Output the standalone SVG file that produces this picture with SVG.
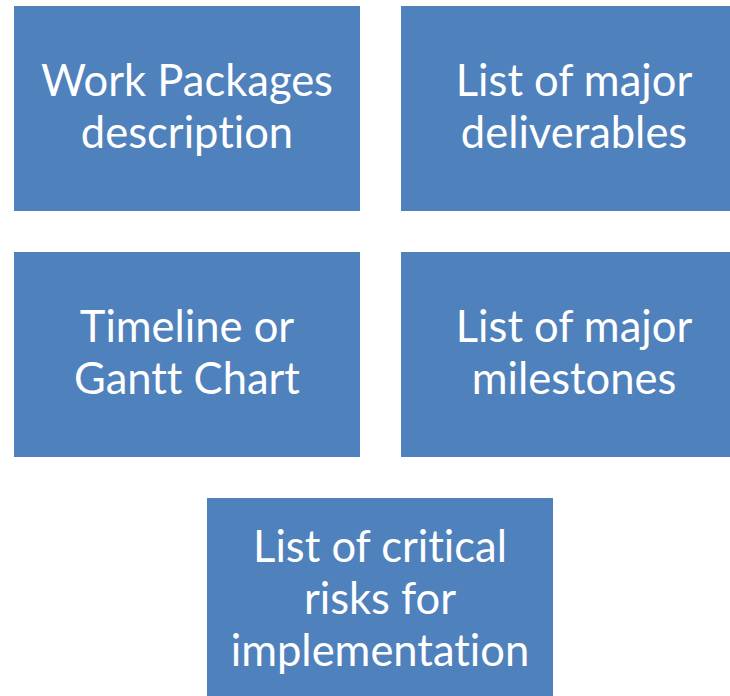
<svg xmlns="http://www.w3.org/2000/svg" width="730" height="696" viewBox="0 0 730 696">
<style>
.box{fill:#4F81BD;}
.t{fill:#FFFFFF;font-family:Lato,"Open Sans","Liberation Sans",sans-serif;font-size:43.5px;text-anchor:middle;font-variant-ligatures:none;font-feature-settings:"liga" 0,"clig" 0;}
</style>
<rect width="730" height="696" fill="#FFFFFF"/>
<g id="node-work-packages">
<rect class="box" x="14" y="6" width="346" height="205"/>
<text class="t" x="187" y="96">Work Packages</text>
<text class="t" x="187" y="148">description</text>
</g>
<g id="node-deliverables">
<rect class="box" x="401" y="6" width="346" height="205"/>
<text class="t" x="574" y="96">List of major</text>
<text class="t" x="574" y="148">deliverables</text>
</g>
<g id="node-timeline">
<rect class="box" x="14" y="252" width="346" height="205"/>
<text class="t" x="187" y="342">Timeline or</text>
<text class="t" x="187" y="394">Gantt Chart</text>
</g>
<g id="node-milestones">
<rect class="box" x="401" y="252" width="346" height="205"/>
<text class="t" x="574" y="342">List of major</text>
<text class="t" x="574" y="394">milestones</text>
</g>
<g id="node-risks">
<rect class="box" x="207" y="498" width="346" height="205"/>
<text class="t" x="380" y="562">List of critical</text>
<text class="t" x="380" y="614">risks for</text>
<text class="t" x="380" y="666">implementation</text>
</g>
<g id="connectors"></g>
</svg>
